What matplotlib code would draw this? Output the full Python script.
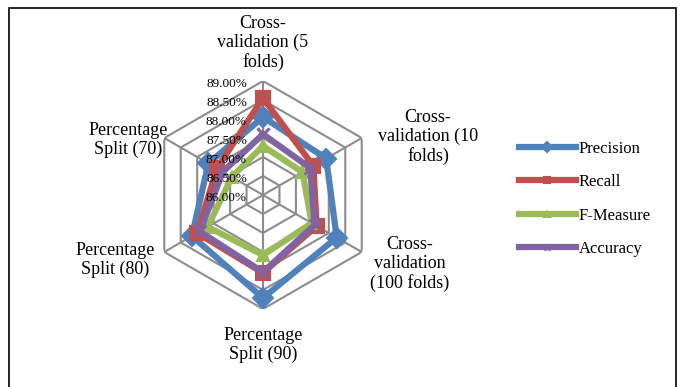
import numpy as np
import matplotlib
matplotlib.use("Agg")
import matplotlib.pyplot as plt
import matplotlib.transforms as mtransforms
from matplotlib.lines import Line2D
from matplotlib.patches import Rectangle

categories = ["Cross-\nvalidation (5\nfolds)", "Cross-\nvalidation (10\nfolds)",
              "Cross-\nvalidation\n(100 folds)", "Percentage\nSplit (90)",
              "Percentage\nSplit (80)", "Percentage\nSplit (70)"]
precision = [88.05, 87.92, 88.24, 88.71, 88.16, 87.66]
recall = [88.55, 87.53, 87.63, 88.05, 88.00, 87.40]
fmeasure = [87.29, 87.20, 87.48, 87.58, 87.68, 86.95]
accuracy = [87.60, 87.43, 87.57, 88.03, 87.92, 87.22]
levels = [86.0, 86.5, 87.0, 87.5, 88.0, 88.5, 89.0]
level_labels = ["86.00%", "86.50%", "87.00%", "87.50%", "88.00%", "88.50%", "89.00%"]

series = [("Precision", precision, "#4F81BD", "D", 10, 1.5),
          ("Recall", recall, "#C0504D", "s", 10, 1.5),
          ("F-Measure", fmeasure, "#9BBB59", "^", 8, 1.5),
          ("Accuracy", accuracy, "#8064A2", "x", 8, 2.0)]

plt.rcParams['font.family'] = ['Liberation Serif', 'DejaVu Serif']

W, H = 683, 387
fig = plt.figure(figsize=(W / 100, H / 100), dpi=100)
cx, cy, R = 263, 195, 114
ax = fig.add_axes([(cx - R) / W, 1 - (cy + R) / H, 2 * R / W, 2 * R / H], projection='polar')
ax.set_theta_offset(np.pi / 2)
ax.set_theta_direction(-1)
ax.set_ylim(levels[0], levels[-1])
ax.set_xticks([])
ax.set_yticks([])
ax.grid(False)
ax.spines['polar'].set_visible(False)
ax.patch.set_alpha(0)

n = len(categories)
angles = np.linspace(0, 2 * np.pi, n, endpoint=False)
closed = np.concatenate([angles, angles[:1]])

grid_c = "#8C8C8C"
for lv in levels[1:]:
    ax.plot(closed, [lv] * (n + 1), color=grid_c, lw=1.5, zorder=1)
for a in angles:
    ax.plot([a, a], [levels[0], levels[-1]], color=grid_c, lw=1.5, zorder=1)

for name, vals, col, mk, ms, mew in series:
    v = list(vals) + [vals[0]]
    ax.plot(closed, v, color=col, lw=4.5, marker=mk, ms=ms, mew=mew,
            mec=col, mfc=col, zorder=3, clip_on=False)

off = mtransforms.offset_copy(ax.transData, fig=fig, x=-16, y=-3, units='dots')
for lv, lab in zip(levels, level_labels):
    ax.text(0, lv, lab, transform=off, ha='right', va='center', fontsize=9.5, zorder=4)

label_pos = [(263, 43), (428, 137), (410, 264), (263, 345), (115, 260), (128, 140)]
for lab, (x, y) in zip(categories, label_pos):
    fig.text(x / W, 1 - y / H, lab, ha='center', va='center', fontsize=13,
             linespacing=1.12)

handles = [Line2D([], [], color=col, lw=4.5, marker=mk, ms=ms * 0.5, mew=mew,
                  mec=col, mfc=col) for name, vals, col, mk, ms, mew in series]
fig.legend(handles, [s[0] for s in series], loc='center left',
           bbox_to_anchor=(519 / W, 1 - 199 / H), frameon=False,
           fontsize=12, handlelength=3.4, handletextpad=0.2, labelspacing=1.05,
           borderaxespad=0, borderpad=0)

fig.patches.append(Rectangle((9 / W, -0.1), (676 - 9) / W, 1.1 - 8 / H,
                             transform=fig.transFigure, fill=False,
                             edgecolor='black', lw=1.2))

fig.savefig("out.png", dpi=100)
